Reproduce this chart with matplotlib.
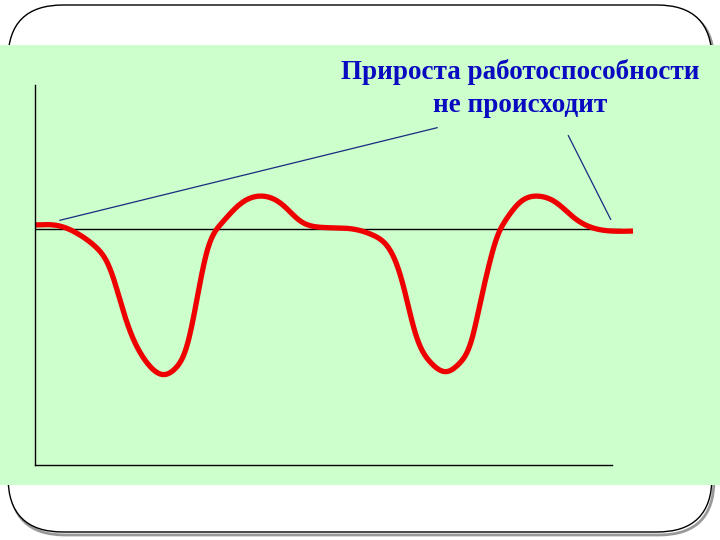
import numpy as np
import matplotlib
matplotlib.use("Agg")
import matplotlib.pyplot as plt
from matplotlib.patches import FancyBboxPatch, Rectangle

# curve: time (arbitrary units) vs. work capacity relative to baseline
t = [0, 25, 45, 62, 75, 90, 112, 128, 142, 152, 160, 172, 185, 205, 228, 248, 265, 282,
     318, 340, 357, 368, 380, 395, 412, 425, 437, 446, 453, 461, 470, 485, 503, 522,
     538, 555, 575, 598]
capacity = [4, 3, -6, -19, -39, -88, -134, -146, -138, -118, -81, -21, 4, 25, 33, 24, 8, 2,
            0, -7, -24, -55, -104, -133, -143, -134, -111, -70, -40, -10, 8, 27, 33, 26,
            12, 2, -2, -2]
title_lines = ["Прироста работоспособности", "не происходит"]


def smooth(x, y, step=0.5, sigma=3.0):
    # natural cubic spline through the read points, only to draw a round line
    x = np.asarray(x, float)
    y = np.asarray(y, float)
    n = len(x)
    h = np.diff(x)
    A = np.zeros((n, n))
    r = np.zeros(n)
    A[0, 0] = A[-1, -1] = 1
    for i in range(1, n - 1):
        A[i, i - 1] = h[i - 1]
        A[i, i] = 2 * (h[i - 1] + h[i])
        A[i, i + 1] = h[i]
        r[i] = 6 * ((y[i + 1] - y[i]) / h[i] - (y[i] - y[i - 1]) / h[i - 1])
    M = np.linalg.solve(A, r)
    xs = np.arange(x[0], x[-1] + step, step)
    xs = xs[xs <= x[-1]]
    k = np.clip(np.searchsorted(x, xs) - 1, 0, n - 2)
    a = x[k + 1] - xs
    b = xs - x[k]
    hk = h[k]
    ys = (M[k] * a ** 3 + M[k + 1] * b ** 3) / (6 * hk) \
        + (y[k] / hk - M[k] * hk / 6) * a + (y[k + 1] / hk - M[k + 1] * hk / 6) * b
    # light blur to take the reading jitter out of the stroke
    m = int(3 * sigma / step)
    g = np.exp(-0.5 * (np.arange(-m, m + 1) * step / sigma) ** 2)
    g /= g.sum()
    ys = np.convolve(np.pad(ys, m, mode="edge"), g, mode="valid")
    return xs, ys


fig = plt.figure(figsize=(7.2, 5.4), dpi=100)

# slide background in pixel coordinates
bg = fig.add_axes([0, 0, 1, 1])
bg.set_xlim(0, 720)
bg.set_ylim(540, 0)
bg.axis("off")
bg.add_patch(FancyBboxPatch((10, 8), 704, 527, boxstyle="round,pad=0,rounding_size=55",
                            fc="none", ec="#999999", lw=2))
bg.add_patch(FancyBboxPatch((8, 5), 704, 527, boxstyle="round,pad=0,rounding_size=55",
                            fc="white", ec="black", lw=1))
bg.add_patch(Rectangle((0, 45), 720, 440, fc="#CCFFCC", ec="none"))
bg.text(520, 72, title_lines[0], ha="center", va="center", fontsize=19.5,
        fontweight="bold", family="Liberation Serif", color="#0A0AC0")
bg.text(520, 105, title_lines[1], ha="center", va="center", fontsize=19.5,
        fontweight="bold", family="Liberation Serif", color="#0A0AC0")

ax = fig.add_axes([35 / 720, 75 / 540, 600 / 720, 380 / 540])
ax.patch.set_alpha(0)
ax.set_xlim(0, 600)
ax.set_ylim(-236, 144)
for s in ["top", "right"]:
    ax.spines[s].set_visible(False)
ax.spines["left"].set_linewidth(1)
ax.spines["bottom"].set_linewidth(1)
ax.spines["bottom"].set_bounds(0, 577)
ax.set_xticks([])
ax.set_yticks([])

ax.plot([0, 585], [0, 0], color="black", lw=1)
xs, ys = smooth(t, capacity)
ax.plot(xs, ys, color="#EE0000", lw=3.8, solid_capstyle="butt")

# pointer lines from the caption to the flat parts
ax.annotate("", xy=(22, 8), xytext=(440, 127), textcoords=bg.transData,
            arrowprops=dict(arrowstyle="-", color="#1A2A80", lw=0.9))
ax.annotate("", xy=(577, 7), xytext=(567, 133), textcoords=bg.transData,
            arrowprops=dict(arrowstyle="-", color="#1A2A80", lw=0.9))

fig.savefig("out.png", dpi=100)
